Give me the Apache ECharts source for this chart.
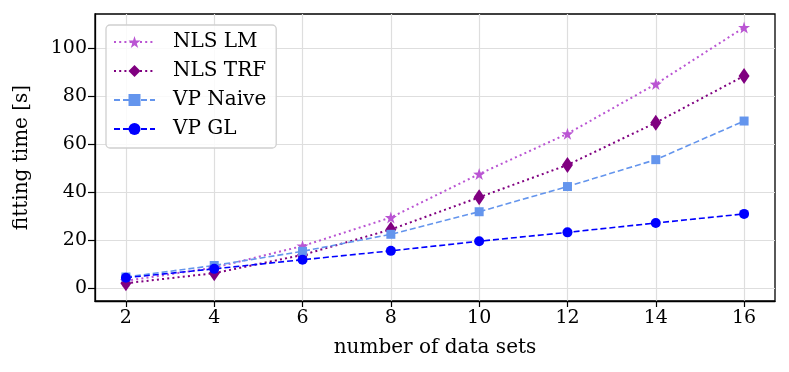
<!DOCTYPE html>
<html><head><meta charset="utf-8">
<script src="https://cdn.jsdelivr.net/npm/echarts@6/dist/echarts.min.js"></script>
<style>html,body{margin:0;padding:0;background:#fff}#c{width:789px;height:372px}</style>
</head><body><div id="c"></div>
<script>
const xValues = [2, 4, 6, 8, 10, 12, 14, 16];
const nlsLM = [3.0, 8.5, 17.5, 29.4, 47.5, 64.3, 85.0, 108.6];
const nlsTRF = [2.0, 6.2, 13.8, 24.4, 37.8, 51.3, 68.9, 88.4];
const vpNaive = [4.6, 9.4, 15.3, 22.4, 31.8, 42.3, 53.5, 69.6];
const vpGL = [4.3, 8.0, 11.8, 15.5, 19.5, 23.2, 27.1, 30.9];
const xTicks = [2, 4, 6, 8, 10, 12, 14, 16];
const yTicks = [0, 20, 40, 60, 80, 100];
const seriesNames = ['NLS LM', 'NLS TRF', 'VP Naive', 'VP GL'];

const font = 'DejaVu Serif';
const pair = v => xValues.map((x, i) => [x, v[i]]);
const chart = echarts.init(document.getElementById('c'));
const defs = [
  {name: seriesNames[0], data: nlsLM, color: '#BA55D3', symbol: 'path://M50,0 L61.8,35.3 L100,36.2 L69.1,58.8 L80.9,95.1 L50,73.1 L19.1,95.1 L30.9,58.8 L0,36.2 L38.2,35.3 Z', size: 12, type: [2, 3.2], width: 2},
  {name: seriesNames[1], data: nlsTRF, color: '#800080', symbol: 'diamond', size: [11, 16], type: [2, 3.2], width: 2},
  {name: seriesNames[2], data: vpNaive, color: '#6495ED', symbol: 'rect', size: 9, type: [6, 3], width: 1.6},
  {name: seriesNames[3], data: vpGL, color: '#0000FF', symbol: 'circle', size: 10, type: [6, 3], width: 1.6}
];
chart.setOption({
  animation: false,
  textStyle: {fontFamily: font},
  grid: {left: 95, right: 14, top: 14, bottom: 71, show: true, borderColor: '#000', borderWidth: 1.3, containLabel: false},
  legend: {
    left: 106, top: 25, orient: 'vertical', itemWidth: 41, itemHeight: 15, itemGap: 9,
    padding: [7, 10, 9, 7], borderColor: '#d0d0d0', borderWidth: 1.3, borderRadius: 4,
    backgroundColor: 'rgba(255,255,255,0.85)',
    textStyle: {fontFamily: font, fontSize: 20, color: '#000', padding: [0, 0, 0, 13]},
    data: seriesNames
  },
  xAxis: {
    type: 'value', min: 1.3, max: 16.7,
    name: 'number of data sets', nameLocation: 'middle', nameGap: 37,
    nameTextStyle: {fontFamily: font, fontSize: 20, color: '#000'},
    axisLine: {show: true, onZero: false, lineStyle: {color: '#000', width: 1.3}},
    axisTick: {show: true, length: 6, customValues: xTicks, lineStyle: {color: '#000', width: 1.2}},
    axisLabel: {customValues: xTicks, fontFamily: font, fontSize: 19, color: '#000', margin: 8},
    splitLine: {show: true, lineStyle: {color: '#dedede', width: 1.2}}
  },
  yAxis: {
    type: 'value', min: -5.4, max: 114.2,
    name: 'fitting time [s]', nameLocation: 'middle', nameGap: 63, nameRotate: 90,
    nameTextStyle: {fontFamily: font, fontSize: 20, color: '#000'},
    axisLine: {show: true, onZero: false, lineStyle: {color: '#000', width: 1.3}},
    axisTick: {show: true, length: 7, customValues: yTicks, lineStyle: {color: '#000', width: 1.2}},
    axisLabel: {customValues: yTicks, fontFamily: font, fontSize: 19, color: '#000', margin: 8},
    splitLine: {show: true, lineStyle: {color: '#dedede', width: 1.2}}
  },
  series: defs.map(d => ({
    name: d.name, type: 'line', data: pair(d.data),
    symbol: d.symbol, symbolSize: d.size, showAllSymbol: true,
    itemStyle: {color: d.color},
    lineStyle: {color: d.color, width: d.width, type: d.type},
    emphasis: {disabled: true}
  }))
});
</script></body></html>
